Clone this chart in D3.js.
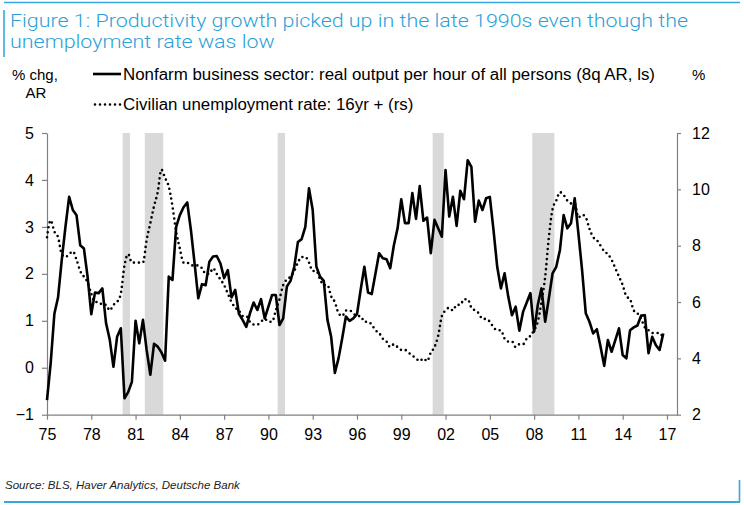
<!DOCTYPE html>
<html><head><meta charset="utf-8">
<script src="https://cdn.jsdelivr.net/npm/d3@7"></script>
<style>body{margin:0;background:#fff}svg{display:block}</style>
</head><body>
<script>
// ---------------- DATA ----------------
const startYear = 1975;           // first quarter of both series (1975Q1), quarterly
const tickYears = [1975,1978,1981,1984,1987,1990,1993,1996,1999,2002,2005,2008,2011,2014,2017];
const tickLabels = ["75","78","81","84","87","90","93","96","99","02","05","08","11","14","17"];
const leftTicks = [-1,0,1,2,3,4,5];
const rightTicks = [2,4,6,8,10,12];
const recessions = [[1980.125,1980.625],[1981.625,1982.875],[1990.625,1991.125],[2001.125,2001.875],[2007.875,2009.375]];

// Nonfarm business sector: real output per hour (8q AR), quarterly from 1975Q1
const productivity = [
 -0.69,0.1,1.15,1.5,2.3,3.0,3.64,3.36,3.25,2.61,2.54,1.94,1.14,1.6,1.59,1.69,
 0.95,0.6,0.02,0.66,0.84,-0.65,-0.52,-0.30,1.0,0.52,1.02,0.38,-0.15,0.51,0.45,0.33,
 0.15,1.94,1.87,3.0,3.25,3.42,3.52,2.93,2.22,1.48,1.78,1.76,2.26,2.37,2.38,2.22,
 1.91,2.08,1.5,1.66,1.15,1.02,0.87,1.16,1.39,1.23,1.46,1.05,1.30,1.55,1.55,0.91,
 1.05,1.73,1.85,2.15,2.68,2.74,3.0,3.82,3.36,2.15,1.94,1.85,1.02,0.66,-0.11,0.20,
 0.63,1.09,1.0,1.05,1.14,1.66,2.15,1.60,1.57,2.0,2.44,2.33,2.31,2.12,2.61,2.97,
 3.59,3.08,3.08,3.72,3.17,3.87,3.13,3.2,2.44,3.15,2.97,2.79,4.21,3.22,3.64,3.02,
 3.77,3.59,4.42,4.28,3.11,3.56,3.36,3.61,3.64,2.93,2.15,1.69,2.01,1.51,1.12,1.30,
 0.79,1.19,1.39,1.59,0.77,1.34,1.69,0.98,1.48,2.01,2.15,2.51,3.25,2.97,3.08,3.61,
 2.86,2.08,1.16,0.98,0.73,0.82,0.45,0.04,0.59,0.34,0.59,0.84,0.27,0.20,0.80,0.86,
 0.90,1.11,1.12,0.31,0.66,0.48,0.38,0.73
];
// Civilian unemployment rate: 16yr+ (%), quarterly from 1975Q1
const unemployment = [
 8.3,8.9,8.5,8.3, 7.7,7.6,7.7,7.8, 7.5,7.1,6.9,6.7, 6.3,6.0,6.0,5.9,
 5.9,5.7,5.9,6.0, 6.3,7.3,7.7,7.4, 7.4,7.4,7.4,8.2, 8.8,9.4,9.9,10.7,
 10.4,10.1,9.4,8.5, 7.9,7.4,7.4,7.3, 7.3,7.3,7.2,7.0, 7.0,7.2,7.0,6.8,
 6.6,6.3,6.0,5.8, 5.7,5.5,5.5,5.3, 5.2,5.2,5.3,5.4, 5.3,5.3,5.7,6.1,
 6.6,6.8,6.9,7.1, 7.4,7.6,7.6,7.4, 7.1,7.1,6.8,6.6, 6.6,6.2,6.0,5.6,
 5.5,5.7,5.7,5.6, 5.5,5.5,5.3,5.3, 5.2,5.0,4.9,4.7, 4.6,4.4,4.5,4.4,
 4.3,4.3,4.2,4.1, 4.0,3.9,4.0,3.9, 4.2,4.4,4.8,5.5, 5.7,5.8,5.7,5.9,
 5.9,6.1,6.1,5.8, 5.7,5.6,5.4,5.4, 5.3,5.1,5.0,5.0, 4.7,4.6,4.6,4.4,
 4.5,4.5,4.7,4.8, 5.0,5.3,6.0,6.9, 8.3,9.3,9.6,9.9, 9.8,9.6,9.5,9.5,
 9.0,9.1,9.0,8.6, 8.3,8.2,8.0,7.8, 7.7,7.5,7.2,6.9, 6.6,6.2,6.1,5.7,
 5.6,5.4,5.1,5.0, 4.9,4.9,4.9,4.7
];

const titleLines = ["Figure 1: Productivity growth picked up in the late 1990s even though the","unemployment rate was low"];
const legendLabels = ["Nonfarm business sector: real output per hour of all persons (8q AR, ls)","Civilian unemployment rate: 16yr + (rs)"];
const sourceText = "Source: BLS, Haver Analytics, Deutsche Bank";

// ---------------- CHART ----------------
const W = 744, H = 505;
const blue = "#2a9fd8", lineBlue = "#35a8e0";
const font = "'Liberation Sans', Arial, Helvetica, sans-serif";
const svg = d3.select("body").append("svg").attr("width", W).attr("height", H)
  .style("font-family", font);

const plot = {left: 47, right: 677, top: 133, bottom: 414.7};
const x = d3.scaleLinear().domain([1975, 2017.68]).range([plot.left, plot.right]);
const yL = d3.scaleLinear().domain([-1, 5]).range([plot.bottom, plot.top]);
const yR = d3.scaleLinear().domain([2, 12]).range([plot.bottom, plot.top]);

// frame decorations
svg.append("line").attr("x1", 4).attr("x2", 740).attr("y1", 2.5).attr("y2", 2.5)
  .attr("stroke", lineBlue).attr("stroke-width", 1.6);
svg.append("line").attr("x1", 4).attr("x2", 4).attr("y1", 10).attr("y2", 57)
  .attr("stroke", lineBlue).attr("stroke-width", 1.6);
svg.append("line").attr("x1", 4).attr("x2", 740).attr("y1", 502).attr("y2", 502)
  .attr("stroke", lineBlue).attr("stroke-width", 2);
svg.append("line").attr("x1", 739.5).attr("x2", 739.5).attr("y1", 480).attr("y2", 502)
  .attr("stroke", lineBlue).attr("stroke-width", 1.6);

// title
const tfont = "Roboto, " + font;
const t1 = svg.append("text").attr("x", 10).attr("y", 26.5).attr("fill", blue)
  .style("font-size", "18.5px").style("font-weight", 300).style("font-family", tfont).text(titleLines[0]);
const t2 = svg.append("text").attr("x", 10).attr("y", 48).attr("fill", blue)
  .style("font-size", "18.5px").style("font-weight", 300).style("font-family", tfont).text(titleLines[1]);
const f1 = 678 / t1.node().getComputedTextLength();
t1.attr("textLength", 678).attr("lengthAdjust", "spacingAndGlyphs");
t2.attr("textLength", t2.node().getComputedTextLength() * f1).attr("lengthAdjust", "spacingAndGlyphs");

// axis unit labels
svg.append("text").attr("x", 12).attr("y", 80).style("font-size", "15px").text("% chg,");
svg.append("text").attr("x", 36).attr("y", 98).attr("text-anchor", "middle").style("font-size", "15px").text("AR");
svg.append("text").attr("x", 692).attr("y", 80).style("font-size", "15px").text("%");

// legend
svg.append("line").attr("x1", 93).attr("x2", 121).attr("y1", 74).attr("y2", 74)
  .attr("stroke", "#000").attr("stroke-width", 2.6);
svg.append("line").attr("x1", 95).attr("x2", 121).attr("y1", 104.5).attr("y2", 104.5)
  .attr("stroke", "#000").attr("stroke-width", 2.6).attr("stroke-linecap", "round").attr("stroke-dasharray", "0 5");
const l1 = svg.append("text").attr("x", 123).attr("y", 80).style("font-size", "16px").text(legendLabels[0]);
const l2 = svg.append("text").attr("x", 123).attr("y", 110).style("font-size", "16px").text(legendLabels[1]);
const lf = 532 / l1.node().getComputedTextLength();
l1.attr("textLength", 532).attr("lengthAdjust", "spacingAndGlyphs");
l2.attr("textLength", l2.node().getComputedTextLength() * lf).attr("lengthAdjust", "spacingAndGlyphs");

// recession shading
svg.append("g").selectAll("rect").data(recessions).join("rect")
  .attr("x", d => x(d[0])).attr("width", d => x(d[1]) - x(d[0]))
  .attr("y", plot.top).attr("height", plot.bottom - plot.top).attr("fill", "#d9d9d9");

// axes
function styleAxis(g) {
  g.selectAll("path.domain").attr("stroke", "#808080").attr("stroke-width", 1.2);
  g.selectAll(".tick line").attr("stroke", "#808080").attr("stroke-width", 1.2);
  g.selectAll(".tick text").attr("fill", "#000").style("font-size", "16px").style("font-family", font);
}
svg.append("g").attr("transform", `translate(${plot.left},0)`)
  .call(d3.axisLeft(yL).tickValues(leftTicks).tickSize(5).tickSizeOuter(0).tickPadding(8).tickFormat(d3.format("d")))
  .call(styleAxis);
svg.append("g").attr("transform", `translate(${plot.right},0)`)
  .call(d3.axisRight(yR).tickValues(rightTicks).tickSize(4).tickSizeOuter(0).tickPadding(11).tickFormat(d3.format("d")))
  .call(styleAxis);
svg.append("g").attr("transform", `translate(0,${plot.bottom})`)
  .call(d3.axisBottom(x).tickValues(tickYears).tickSize(5).tickSizeOuter(0).tickPadding(9).tickFormat((d, i) => tickLabels[i]))
  .call(styleAxis);

// series
const qx = i => x(startYear + i / 4);
svg.append("path").datum(unemployment)
  .attr("d", d3.line().x((d, i) => qx(i)).y(d => yR(d)).curve(d3.curveMonotoneX))
  .attr("fill", "none").attr("stroke", "#000").attr("stroke-width", 2.6)
  .attr("stroke-linecap", "round").attr("stroke-dasharray", "0 5");
svg.append("path").datum(productivity)
  .attr("d", d3.line().x((d, i) => qx(i)).y(d => yL(d)))
  .attr("fill", "none").attr("stroke", "#000").attr("stroke-width", 2.6)
  .attr("stroke-linejoin", "round");

// source
svg.append("text").attr("x", 5).attr("y", 489).style("font-size", "11.5px").style("font-style", "italic")
  .attr("fill", "#222").text(sourceText);
</script>
</body></html>
